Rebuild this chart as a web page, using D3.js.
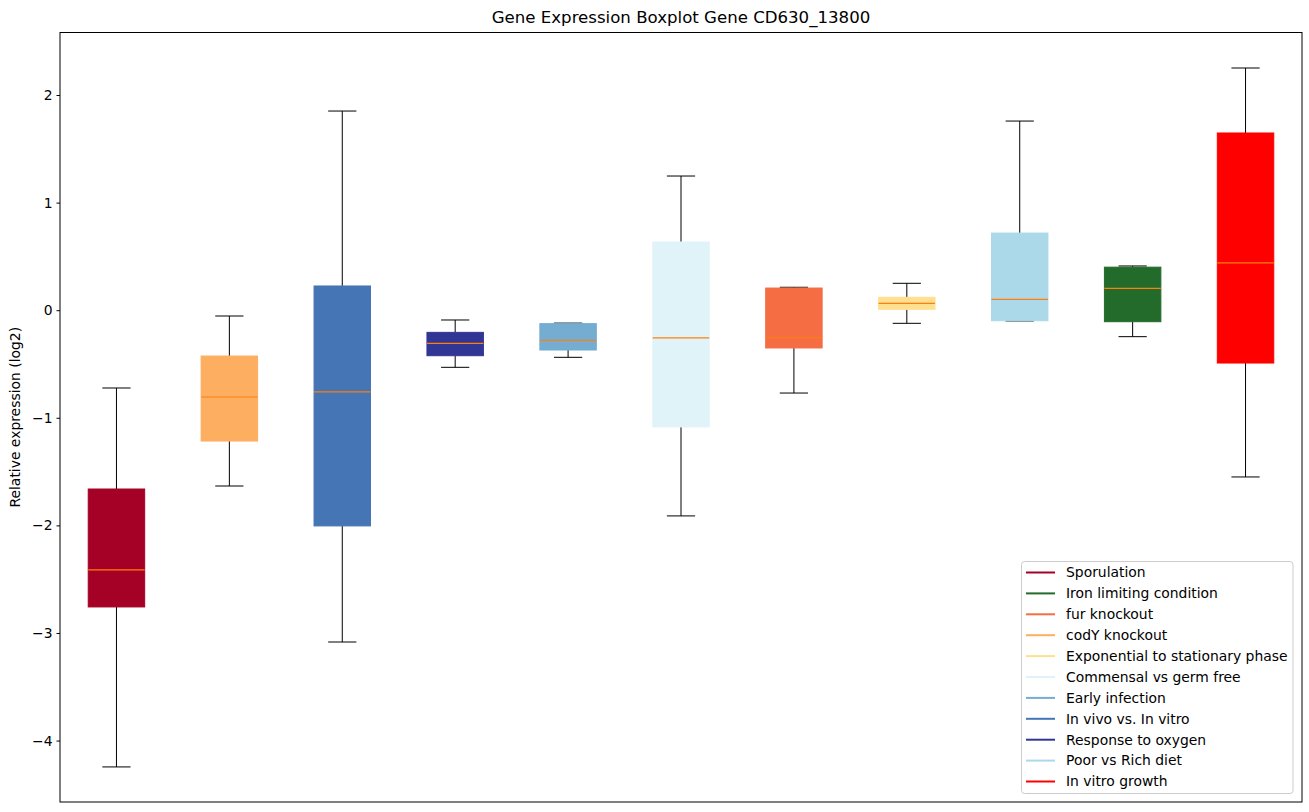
<!DOCTYPE html>
<html><head><meta charset="utf-8">
<script src="https://cdn.jsdelivr.net/npm/d3@7"></script>
<style>body{margin:0;background:#fff;font-family:"DejaVu Sans",sans-serif;}</style>
</head><body><svg id="c" width="1309" height="812"></svg>
<script>
const categories = ["Sporulation","codY knockout","In vivo vs. In vitro","Response to oxygen","Early infection","Commensal vs germ free","fur knockout","Exponential to stationary phase","Poor vs Rich diet","Iron limiting condition","In vitro growth"];
const colors = ["#a50026","#fdae61","#4575b4","#313695","#74add1","#e0f3f8","#f46d43","#fee090","#abd9e9","#226b2b","#ff0000"];
const whiskerLow = [-4.245,-1.634,-3.084,-0.531,-0.438,-1.912,-0.770,-0.122,-0.100,-0.246,-1.550];
const q1 = [-2.758,-1.216,-2.005,-0.423,-0.370,-1.085,-0.351,0.008,-0.098,-0.107,-0.491];
const median = [-2.414,-0.807,-0.760,-0.308,-0.280,-0.258,-0.256,0.064,0.101,0.203,0.439];
const q3 = [-1.662,-0.426,0.225,-0.206,-0.125,0.634,0.206,0.120,0.717,0.400,1.647];
const whiskerHigh = [-0.723,-0.054,1.851,-0.091,-0.120,1.247,0.213,0.250,1.758,0.411,2.251];
const legendOrder = ["Sporulation","Iron limiting condition","fur knockout","codY knockout","Exponential to stationary phase","Commensal vs germ free","Early infection","In vivo vs. In vitro","Response to oxygen","Poor vs Rich diet","In vitro growth"];
const yTicks = [-4,-3,-2,-1,0,1,2];

const L=60,R=1302,T=32.5,B=802;
const svg=d3.select("#c");
const x=d3.scaleLinear().domain([0.5,11.5]).range([L,R]);
const y=d3.scaleLinear().domain([-4.571,2.581]).range([B,T]);
const bw=(x(1.5)-x(1))*1; // box width 0.5 units
const data=categories.map((c,i)=>({c,i,pos:i+1,col:colors[i],lo:whiskerLow[i],q1:q1[i],med:median[i],q3:q3[i],hi:whiskerHigh[i]}));

const g=svg.append("g");
data.forEach(d=>{
  const cx=x(d.pos);
  g.append("line").attr("x1",cx).attr("x2",cx).attr("y1",y(d.q3)).attr("y2",y(d.hi)).attr("stroke","#000").attr("stroke-width",1);
  g.append("line").attr("x1",cx).attr("x2",cx).attr("y1",y(d.q1)).attr("y2",y(d.lo)).attr("stroke","#000").attr("stroke-width",1);
  g.append("line").attr("x1",cx-bw/4).attr("x2",cx+bw/4).attr("y1",y(d.hi)).attr("y2",y(d.hi)).attr("stroke","#000").attr("stroke-width",1);
  g.append("line").attr("x1",cx-bw/4).attr("x2",cx+bw/4).attr("y1",y(d.lo)).attr("y2",y(d.lo)).attr("stroke","#000").attr("stroke-width",1);
  g.append("rect").attr("x",cx-bw/2).attr("width",bw).attr("y",y(d.q3)).attr("height",y(d.q1)-y(d.q3)).attr("fill",d.col).attr("stroke",d.col).attr("stroke-width",1);
  g.append("line").attr("x1",cx-bw/2).attr("x2",cx+bw/2).attr("y1",y(d.med)).attr("y2",y(d.med)).attr("stroke","#ff7f0e").attr("stroke-width",1.2);
});

svg.append("rect").attr("x",L).attr("y",T).attr("width",R-L).attr("height",B-T).attr("fill","none").attr("stroke","#000").attr("stroke-width",1);
const ya=svg.append("g").attr("transform",`translate(${L},0)`).call(d3.axisLeft(y).tickValues(yTicks).tickSize(3.5).tickPadding(4).tickFormat(d=>d<0?"\u2212"+Math.abs(d):d));
ya.select(".domain").remove();
ya.selectAll("text").attr("font-size","13.9px").attr("font-family","DejaVu Sans").attr("fill","#000");
ya.selectAll("line").attr("stroke","#000");

svg.append("text").attr("x",(L+R)/2).attr("y",23).attr("text-anchor","middle").attr("font-size","16.6px").attr("font-family","DejaVu Sans").text("Gene Expression Boxplot Gene CD630_13800");
svg.append("text").attr("transform",`translate(20,${(T+B)/2}) rotate(-90)`).attr("text-anchor","middle").attr("font-size","13.9px").attr("font-family","DejaVu Sans").text("Relative expression (log2)");

const lg=svg.append("g");
lg.append("rect").attr("x",1021.5).attr("y",561.5).attr("width",1293-1021.5).attr("height",232).attr("rx",3).attr("fill","#fff").attr("fill-opacity",0.8).attr("stroke","#ccc");
legendOrder.forEach((name,k)=>{
  const col=colors[categories.indexOf(name)];
  const yy=572.5+k*20.9;
  lg.append("line").attr("x1",1026).attr("x2",1055).attr("y1",yy).attr("y2",yy).attr("stroke",col).attr("stroke-width",2);
  lg.append("text").attr("x",1066).attr("y",yy).attr("dy","0.35em").attr("font-size","13.9px").attr("font-family","DejaVu Sans").attr("fill","#000").text(name);
});
</script></body></html>
